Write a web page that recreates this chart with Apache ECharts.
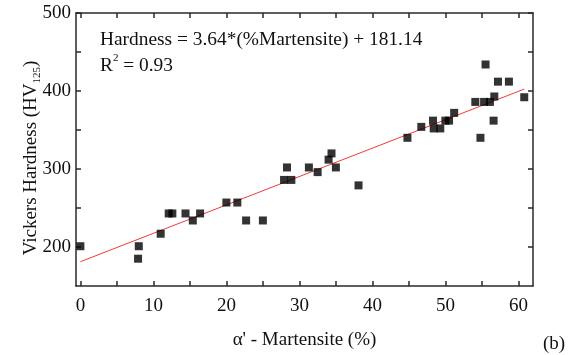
<!DOCTYPE html>
<html>
<head>
<meta charset="utf-8">
<script src="https://cdn.jsdelivr.net/npm/echarts@6/dist/echarts.min.js"></script>
<style>
html, body { margin: 0; padding: 0; background: #fff; }
#chart { width: 575px; height: 355px; }
</style>
</head>
<body>
<div id="chart"></div>
<script>
// martensite content (%) vs hardness (HV125)
var martensite = [0, 7.9, 8.0, 11.0, 12.1, 12.6, 14.4, 15.4, 16.4, 20.0, 21.5, 22.7, 25.0,
    27.9, 28.3, 28.9, 31.3, 32.5, 34.0, 34.4, 35.0, 38.1, 44.8, 46.7, 48.3, 48.4, 49.3,
    50.0, 50.5, 51.2, 54.1, 54.8, 55.3, 55.5, 56.1, 56.6, 56.7, 57.2, 58.7, 60.8];
var hardness = [201, 185, 201, 217, 243, 243, 243, 234, 243, 257, 257, 234, 234,
    286, 302, 286, 302, 296, 312, 320, 302, 279, 340, 354, 362, 352, 352,
    362, 362, 372, 386, 340, 386, 434, 386, 362, 393, 412, 412, 392];

// linear fit end points (Hardness = 3.64*x + 181.14)
var fitX = [0, 60.8];
var fitY = [181.14, 402.45];

var xTicks = [0, 5, 10, 15, 20, 25, 30, 35, 40, 45, 50, 55, 60];
var xLabels = [0, 10, 20, 30, 40, 50, 60];
var yTicks = [200, 250, 300, 350, 400, 450, 500];
var yLabels = [200, 300, 400, 500];

var font = '"Liberation Serif", "Times New Roman", serif';
var axisColor = '#2a2a2a';

var points = martensite.map(function (x, i) { return [x, hardness[i]]; });
var fitLine = fitX.map(function (x, i) { return [x, fitY[i]]; });

var myChart = echarts.init(document.getElementById('chart'));

function xAxisCfg(pos, labels) {
    return {
        type: 'value',
        position: pos,
        min: -0.6,
        max: 62,
        splitLine: { show: false },
        axisLine: { show: true, onZero: false, lineStyle: { color: axisColor, width: 1.5 } },
        axisTick: { inside: true, length: 5, customValues: xTicks, lineStyle: { color: axisColor, width: 1.5 } },
        axisLabel: labels ? {
            customValues: xLabels, margin: 11,
            fontFamily: font, fontSize: 19, color: '#111'
        } : { show: false }
    };
}
function yAxisCfg(pos, labels) {
    return {
        type: 'value',
        position: pos,
        min: 150,
        max: 500,
        splitLine: { show: false },
        axisLine: { show: true, onZero: false, lineStyle: { color: axisColor, width: 1.5 } },
        axisTick: { inside: true, length: 5, customValues: yTicks, lineStyle: { color: axisColor, width: 1.5 } },
        axisLabel: labels ? {
            customValues: yLabels, margin: 5,
            fontFamily: font, fontSize: 19, color: '#111'
        } : { show: false }
    };
}

var xMain = xAxisCfg('bottom', true);
xMain.name = "α' - Martensite (%)";
xMain.nameLocation = 'middle';
xMain.nameGap = 45;
xMain.nameTextStyle = { fontFamily: font, fontSize: 19, color: '#111' };

var option = {
    animation: false,
    backgroundColor: '#fff',
    grid: { left: 76, right: 42, top: 13, bottom: 62 },
    xAxis: [xMain, xAxisCfg('top', false)],
    yAxis: [yAxisCfg('left', true), yAxisCfg('right', false)],
    graphic: [{
        type: 'text',
        x: 31,
        y: 158,
        rotation: Math.PI / 2,
        style: {
            text: '{a|Vickers Hardness (HV}{sub|125}{a|)}',
            align: 'center',
            verticalAlign: 'middle',
            fill: '#111',
            font: '19px ' + font,
            rich: {
                a: { fontFamily: font, fontSize: 19, lineHeight: 24, fill: '#111' },
                sub: { fontFamily: font, fontSize: 11, lineHeight: 11, verticalAlign: 'bottom', fill: '#111' }
            }
        }
    }, {
        type: 'text',
        left: 100,
        top: 30,
        style: {
            text: '{a|Hardness = 3.64*(%Martensite) + 181.14}\n{a|R}{sup|2}{a| = 0.93}',
            fill: '#111',
            font: '19px ' + font,
            rich: {
                a: { fontFamily: font, fontSize: 19.4, lineHeight: 26, fill: '#111' },
                sup: { fontFamily: font, fontSize: 11, lineHeight: 14, verticalAlign: 'top', fill: '#111' }
            }
        }
    }, {
        type: 'text',
        left: 543,
        top: 335,
        style: { text: '(b)', fill: '#111', font: '19px ' + font }
    }],
    series: [{
        name: 'fit',
        type: 'line',
        data: fitLine,
        symbol: 'none',
        silent: true,
        lineStyle: { color: '#f03a3a', width: 1 },
        z: 2
    }, {
        name: 'data',
        type: 'scatter',
        data: points,
        symbol: 'rect',
        symbolSize: 8,
        itemStyle: { color: '#000' },
        z: 3
    }]
};

myChart.setOption(option);
</script>
</body>
</html>
